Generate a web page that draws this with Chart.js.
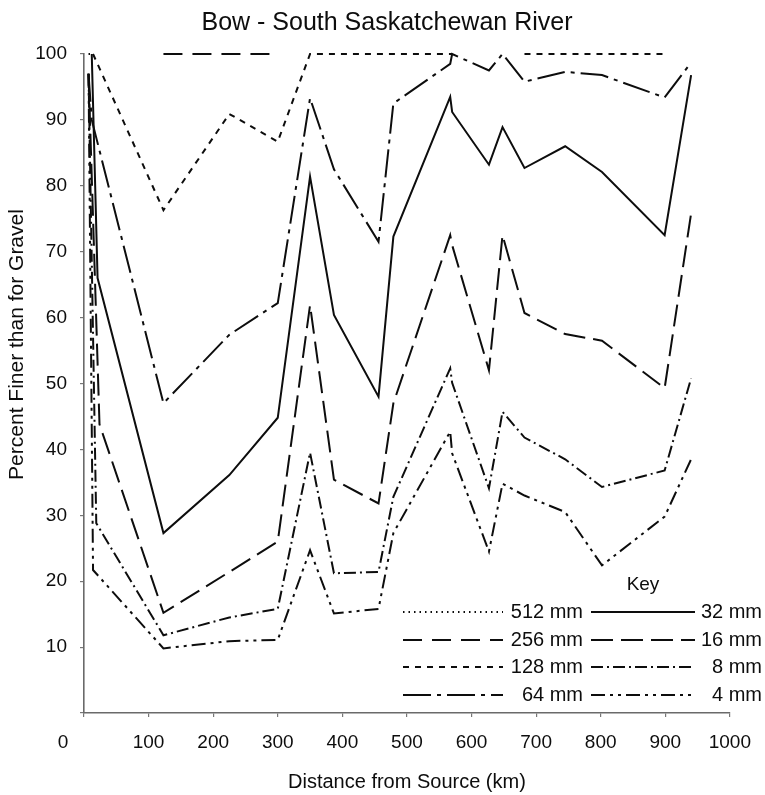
<!DOCTYPE html>
<html>
<head>
<meta charset="utf-8">
<script src="https://cdn.jsdelivr.net/npm/chart.js@4/dist/chart.umd.min.js"></script>
<style>
  html, body { margin: 0; padding: 0; background: #fff; }
  #wrap { width: 765px; height: 795px; }
</style>
</head>
<body>
<div id="wrap"><canvas id="c" width="765" height="795"></canvas></div>
<script>
// ---------- text ----------
const chartTitle = 'Bow - South Saskatchewan River';
const xAxisTitle = 'Distance from Source (km)';
const yAxisTitle = 'Percent Finer than for Gravel';
const keyTitle = 'Key';

// ---------- axes ----------
const xTickValues = [0, 100, 200, 300, 400, 500, 600, 700, 800, 900, 1000];
const yTickValues = [10, 20, 30, 40, 50, 60, 70, 80, 90, 100];

// ---------- stations (km from source) ----------
const stationsKm = [7, 12, 14, 19, 21, 24, 123, 225, 300, 350, 387, 456, 479, 567, 570, 627, 648, 682, 745, 802, 899, 940];

// ---------- percent finer, per grain size (null = not sampled) ----------
const p512mm = [100, 100, null, null, null, null, null, null, null, null, null, null, null, null, null, null, null, null, null, null, null, null];
const p256mm = [null, null, null, null, null, null, 100, 100, 100, null, null, null, null, null, null, null, null, null, null, null, null, null];
const p128mm = [null, null, 100, null, null, null, 76.3, 90.9, 86.7, 100, 100, 100, 100, 100, 100, null, null, 100, 100, 100, 100, null];
const p64mm  = [97, 90, null, null, null, null, 47, 57.4, 62.2, 93.3, 82.5, 71.5, 92.5, 98.5, 100, 97.5, 100, 95.8, 97.3, 96.8, 93.4, 98.7];
const p32mm  = [null, 100, null, null, 66, null, 27.3, 36.1, 44.8, 81.4, 60.4, 48, 72.3, 93.5, 91.2, 83.2, 88.9, 82.7, 86.0, 82.1, 72.5, 96.8];
const p16mm  = [97, null, null, null, null, 43.8, 15.2, 21.4, 26, 61.9, 35.4, 31.8, 47, 72.5, 71, 52, 72.5, 60.7, 57.5, 56.5, 49.3, 75.8];
const p8mm   = [97, null, null, 28.8, null, null, 11.8, 14.5, 15.8, 39.5, 21.2, 21.4, 32.8, 52.3, 50.1, 34.1, 45.7, 41.8, 38.5, 34.3, 36.8, 50.8];
const p4mm   = [97, null, 21.7, null, null, null, 9.8, 10.9, 11.1, 24.7, 15.1, 15.8, 27.3, 42.7, 39.4, 24.5, 34.8, 33.0, 30.5, 22.4, 29.8, 38.5];

// break in the 128 mm record (no samples between these stations)
const break128mm = [570, 682];

const seriesLabels = ['512 mm', '256 mm', '128 mm', '64 mm', '32 mm', '16 mm', '8 mm', '4 mm'];
const seriesValues = [p512mm, p256mm, p128mm, p64mm, p32mm, p16mm, p8mm, p4mm];
const seriesDash = [
  [1.5, 4],            // 512 dotted
  [19, 10],            // 256 long dash
  [6, 6],              // 128 short dash
  [28, 6, 4, 6],       // 64 long-short
  [],                  // 32 solid
  [22, 8],             // 16 dash
  [12, 4, 2, 4],       // 8 dash-dot
  [14, 5, 3, 5, 3, 5]  // 4 dash-dot-dot
];

const FONT = '"Liberation Sans", Arial, sans-serif';
const INK = '#0d0d0d';

function toPoints(vals) {
  return stationsKm.map((km, i) => ({ x: km, y: vals[i] })).filter(p => p.y !== null);
}

const datasets = seriesLabels.map((lab, i) => {
  const ds = {
    label: lab,
    data: toPoints(seriesValues[i]),
    borderColor: INK,
    backgroundColor: INK,
    borderWidth: 2,
    borderDash: seriesDash[i],
    pointRadius: 0,
    tension: 0,
    fill: false,
    clip: false
  };
  if (lab === '128 mm') {
    ds.segment = {
      borderColor: c => (c.p0.parsed.x === break128mm[0] && c.p1.parsed.x === break128mm[1]) ? 'rgba(0,0,0,0)' : undefined
    };
  }
  return ds;
});

// Key (legend), y-axis title and the corner "0" label, drawn like the original
const keyPlugin = {
  id: 'keyBox',
  afterDraw(chart) {
    const ctx = chart.ctx;
    const xs = chart.scales.x;
    const ys = chart.scales.y;
    ctx.save();
    ctx.fillStyle = INK;
    ctx.textBaseline = 'middle';

    // y axis title, rotated
    ctx.save();
    ctx.font = '21px ' + FONT;
    ctx.translate(17, (ys.top + ys.bottom) / 2 - 39);
    ctx.rotate(-Math.PI / 2);
    ctx.textAlign = 'center';
    ctx.fillText(yAxisTitle, 0, 0);
    ctx.restore();

    // key
    ctx.font = '19px ' + FONT;
    ctx.textAlign = 'center';
    ctx.fillText(keyTitle, 643, 585);
    ctx.font = '20px ' + FONT;
    const rowsY = [612, 640, 667, 695];
    const cols = [{ x0: 403, x1: 503, tx: 583 }, { x0: 591, x1: 695, tx: 762 }];
    chart.data.datasets.forEach((ds, i) => {
      const col = cols[i < 4 ? 0 : 1];
      const y = rowsY[i % 4];
      ctx.setLineDash(ds.borderDash);
      ctx.lineWidth = ds.borderWidth;
      ctx.strokeStyle = ds.borderColor;
      ctx.beginPath();
      ctx.moveTo(col.x0, y);
      ctx.lineTo(col.x1, y);
      ctx.stroke();
      ctx.setLineDash([]);
      ctx.textAlign = 'right';
      ctx.fillText(ds.label, col.tx, y);
    });

    // the x "0" label sits left of the axis corner in the original
    ctx.textAlign = 'center';
    ctx.font = '19px ' + FONT;
    ctx.fillText(String(xTickValues[0]), xs.getPixelForValue(xTickValues[0]) - 21, xs.top + 4 + 14 + 11.4);
    ctx.restore();
  }
};

new Chart(document.getElementById('c'), {
  type: 'line',
  data: { datasets },
  plugins: [keyPlugin],
  options: {
    responsive: false,
    animation: false,
    devicePixelRatio: 1,
    layout: { padding: { left: 28, right: 19, top: 0, bottom: 0 } },
    plugins: {
      legend: { display: false },
      tooltip: { enabled: false },
      title: {
        display: true,
        text: chartTitle,
        color: INK,
        font: { family: FONT, size: 25, weight: 'normal', lineHeight: 1.2 },
        padding: { top: 8, bottom: 16 }
      }
    },
    scales: {
      x: {
        type: 'linear',
        min: xTickValues[0],
        max: xTickValues[xTickValues.length - 1],
        afterBuildTicks: s => { s.ticks = xTickValues.map(v => ({ value: v })); },
        afterFit: s => { s.height = 82; },
        ticks: {
          color: INK,
          font: { family: FONT, size: 19 },
          padding: 14,
          maxRotation: 0,
          autoSkip: false,
          callback: v => (v === 0 ? '' : String(v))
        },
        grid: { display: true, drawOnChartArea: false, drawTicks: true, tickLength: 4, color: '#777', lineWidth: 1.2 },
        border: { display: true, color: '#6a6a6a', width: 1.6 },
        title: {
          display: true,
          text: xAxisTitle,
          color: INK,
          font: { family: FONT, size: 20, lineHeight: 1.2 },
          padding: { top: 0, bottom: 1 }
        }
      },
      y: {
        type: 'linear',
        min: 0,
        max: 100,
        afterBuildTicks: s => { s.ticks = [0].concat(yTickValues).map(v => ({ value: v })); },
        afterFit: s => { s.width = 56; },
        ticks: {
          color: INK,
          font: { family: FONT, size: 19 },
          padding: 13,
          autoSkip: false,
          callback: v => (v === 0 ? '' : String(v))
        },
        grid: { display: true, drawOnChartArea: false, drawTicks: true, tickLength: 4, color: '#777', lineWidth: 1.2 },
        border: { display: true, color: '#6a6a6a', width: 1.6 },
        title: { display: false, text: yAxisTitle }
      }
    }
  }
});
</script>
</body>
</html>
